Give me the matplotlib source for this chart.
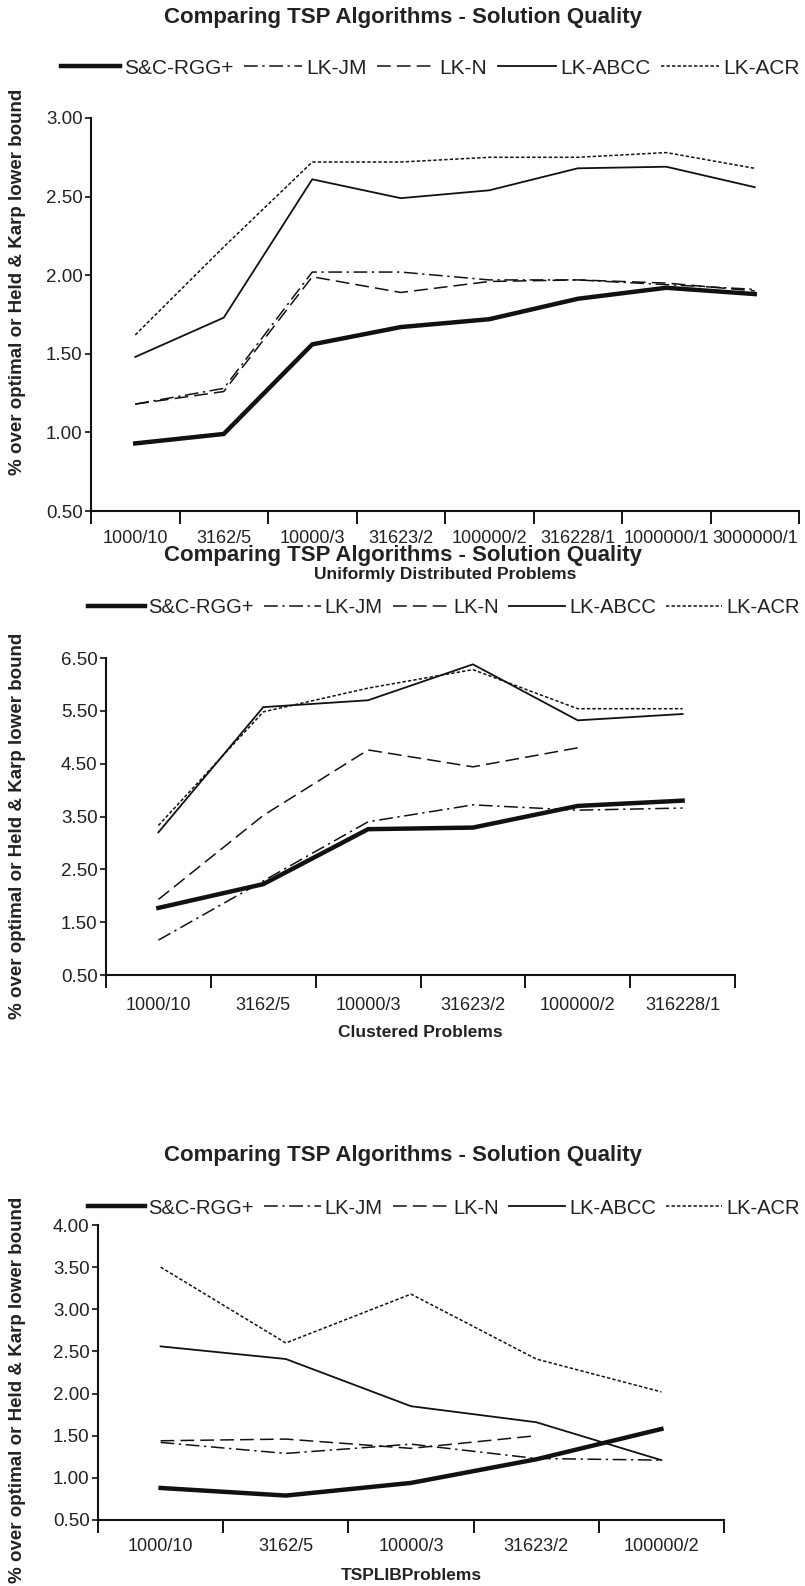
"""Three-panel line chart: TSP algorithm solution quality (uniform, clustered, TSPLIB)."""

import matplotlib
matplotlib.use("Agg")
import matplotlib.pyplot as plt
from matplotlib.ticker import FormatStrFormatter

plt.rcParams["font.family"] = ["Liberation Sans", "DejaVu Sans"]

TITLE = "Comparing TSP Algorithms - Solution Quality"
YLABEL = "% over optimal or Held & Karp lower bound"
ALGOS = ["S&C-RGG+", "LK-JM", "LK-N", "LK-ABCC", "LK-ACR"]

# uniformly distributed problems
uniform_cats = ["1000/10", "3162/5", "10000/3", "31623/2", "100000/2", "316228/1",
                "1000000/1", "3000000/1"]
uniform_scrgg = [0.93, 0.99, 1.56, 1.67, 1.72, 1.85, 1.92, 1.88]
uniform_lkjm = [1.18, 1.28, 2.02, 2.02, 1.97, 1.97, 1.94, 1.91]
uniform_lkn = [1.18, 1.26, 1.99, 1.89, 1.96, 1.97, 1.95, 1.90]
uniform_abcc = [1.48, 1.73, 2.61, 2.49, 2.54, 2.68, 2.69, 2.56]
uniform_acr = [1.62, 2.18, 2.72, 2.72, 2.75, 2.75, 2.78, 2.68]

# clustered problems
clustered_cats = ["1000/10", "3162/5", "10000/3", "31623/2", "100000/2", "316228/1"]
clustered_scrgg = [1.77, 2.22, 3.26, 3.29, 3.70, 3.80]
clustered_lkjm = [1.16, 2.28, 3.40, 3.72, 3.62, 3.66]
clustered_lkn = [1.93, 3.52, 4.76, 4.44, 4.80, None]
clustered_abcc = [3.20, 5.57, 5.70, 6.38, 5.32, 5.44]
clustered_acr = [3.33, 5.48, 5.93, 6.28, 5.54, 5.54]

# TSPLIB problems
tsplib_cats = ["1000/10", "3162/5", "10000/3", "31623/2", "100000/2"]
tsplib_scrgg = [0.88, 0.79, 0.94, 1.22, 1.58]
tsplib_lkjm = [1.42, 1.29, 1.40, 1.23, 1.21]
tsplib_lkn = [1.44, 1.46, 1.35, 1.50, None]
tsplib_abcc = [2.56, 2.41, 1.85, 1.66, 1.21]
tsplib_acr = [3.50, 2.60, 3.18, 2.41, 2.02]

STYLES = {
    "S&C-RGG+": dict(lw=3.2, ls="-"),
    "LK-JM": dict(lw=1.1, ls=(0, (9, 3, 1.5, 3))),
    "LK-N": dict(lw=1.1, ls=(0, (9, 4))),
    "LK-ABCC": dict(lw=1.3, ls="-"),
    "LK-ACR": dict(lw=1.1, ls=(0, (2.2, 1.4))),
}

W, H = 805, 1586
fig = plt.figure(figsize=(W / 100, H / 100), dpi=100)


def px_axes(left, right, top, bottom):
    return fig.add_axes([left / W, 1 - bottom / H, (right - left) / W, (bottom - top) / H])


def panel(box, cats, series, ylim, ystep, xlabel, title_y, legend_y, legend_fs,
          ylabel_y, tick_pad, label_pad):
    ax = px_axes(*box)
    n = len(cats)
    xs = [i + 0.5 for i in range(n)]
    for name, vals in zip(ALGOS, series):
        pts = [(x, v) for x, v in zip(xs, vals) if v is not None]
        ax.plot([p[0] for p in pts], [p[1] for p in pts], color="#111111",
                label=name, solid_joinstyle="miter", **STYLES[name])
    ax.set_xlim(0, n)
    ax.set_ylim(*ylim)
    yt = []
    v = ylim[0]
    while v <= ylim[1] + 1e-9:
        yt.append(v)
        v += ystep
    ax.set_yticks(yt)
    ax.yaxis.set_major_formatter(FormatStrFormatter("%.2f"))
    ax.set_xticks(range(n + 1))
    ax.set_xticklabels([])
    ax.set_xticks(xs, minor=True)
    ax.set_xticklabels(cats, minor=True)
    ax.tick_params(axis="x", which="major", length=9, width=1.3, direction="out")
    ax.tick_params(axis="x", which="minor", length=0, pad=tick_pad, labelsize=13,
                   colors="#222222")
    ax.tick_params(axis="y", length=4, width=1.3, labelsize=13.5, pad=2,
                   colors="#222222")
    for s in ("top", "right"):
        ax.spines[s].set_visible(False)
    for s in ("left", "bottom"):
        ax.spines[s].set_linewidth(1.5)
        ax.spines[s].set_color("#111111")
    ax.set_xlabel(xlabel, fontsize=12.5, fontweight="bold", labelpad=label_pad,
                  color="#222222")
    fig.text(0.5, 1 - title_y / H, TITLE, ha="center", va="center",
             fontsize=16, fontweight="bold", color="#222222")
    fig.text(18 / W, 1 - ylabel_y / H, YLABEL, rotation=90,
             ha="center", va="center", fontsize=13.5, fontweight="bold",
             color="#222222")
    handles, labels = ax.get_legend_handles_labels()
    leg = fig.legend(handles, labels, loc="center right", ncol=5, frameon=False,
                     bbox_to_anchor=(800 / W, 1 - legend_y / H), fontsize=legend_fs,
                     handlelength=2.8, handletextpad=0.2, columnspacing=0.5,
                     borderpad=0, borderaxespad=0)
    for t in leg.get_texts():
        t.set_color("#222222")
    return ax


panel((91, 799, 118, 511), uniform_cats,
      [uniform_scrgg, uniform_lkjm, uniform_lkn, uniform_abcc, uniform_acr],
      (0.5, 3.0), 0.5, "Uniformly Distributed Problems", 18, 68, 15, 282, 14, 14)
panel((106, 735, 658, 975), clustered_cats,
      [clustered_scrgg, clustered_lkjm, clustered_lkn, clustered_abcc, clustered_acr],
      (0.5, 6.5), 1.0, "Clustered Problems", 555, 608, 14.5, 826, 16, 8)
panel((98, 724, 1225, 1520), tsplib_cats,
      [tsplib_scrgg, tsplib_lkjm, tsplib_lkn, tsplib_abcc, tsplib_acr],
      (0.5, 4.0), 0.5, "TSPLIBProblems", 1155, 1208, 14.5, 1390, 13, 9)

fig.savefig("out.png", dpi=100)
